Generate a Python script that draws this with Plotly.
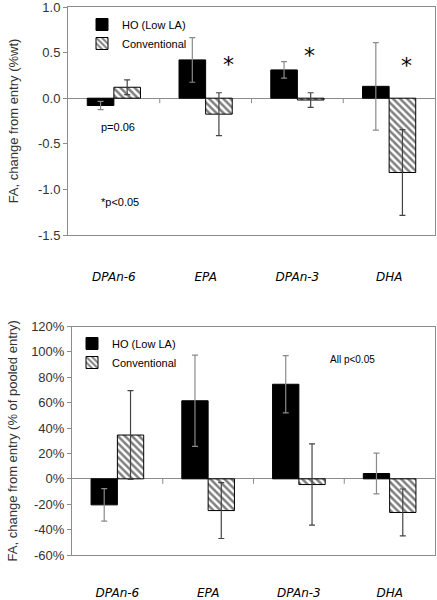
import plotly.graph_objects as go

W, H = 437, 600

categories = ["DPAn-6", "EPA", "DPAn-3", "DHA"]

# Top panel: change from entry (%wt)
top_ho = [-0.08, 0.42, 0.31, 0.13]
top_ho_err = [0.045, 0.245, 0.09, 0.48]
top_conv = [0.12, -0.175, -0.02, -0.815]
top_conv_err = [0.08, 0.235, 0.08, 0.47]

# Bottom panel: change from entry (% of pooled entry)
bot_ho = [-20.5, 61.5, 74.5, 4.2]
bot_ho_err = [12.8, 36, 22.6, 16]
bot_conv = [34.5, -25, -4.5, -26.5]
bot_conv_err = [35, 22, 32, 18.5]

top_y_ticks = [-1.5, -1.0, -0.5, 0.0, 0.5, 1.0]
top_y_labels = ["-1.5", "-1.0", "-0.5", "0.0", "0.5", "1.0"]
bot_y_ticks = [-60, -40, -20, 0, 20, 40, 60, 80, 100, 120]
bot_y_labels = ["-60%", "-40%", "-20%", "0%", "20%", "40%", "60%", "80%", "100%", "120%"]

def px(x):
    return x / W

def py(y):
    return 1 - y / H

GRAY = "#8c8c8c"
TXT = "#333333"
FONT = "Liberation Sans"

fig = go.Figure()

def add_pair(ho, ho_err, conv, conv_err, xa, ya, leg):
    fig.add_trace(go.Bar(
        x=categories, y=ho, name="HO (Low LA)", xaxis=xa, yaxis=ya, legend=leg,
        marker=dict(color="black", line=dict(color="black", width=1)),
        error_y=dict(type="data", array=ho_err, color="#8a8a8a", thickness=1.2, width=3),
    ))
    fig.add_trace(go.Bar(
        x=categories, y=conv, name="Conventional", xaxis=xa, yaxis=ya, legend=leg,
        marker=dict(color="white", line=dict(color="black", width=1),
                    pattern=dict(shape="\\", fgcolor="black", bgcolor="white", size=5, solidity=0.5)),
        error_y=dict(type="data", array=conv_err, color="#444444", thickness=1.2, width=3),
    ))

add_pair(top_ho, top_ho_err, top_conv, top_conv_err, "x", "y", "legend")
add_pair(bot_ho, bot_ho_err, bot_conv, bot_conv_err, "x2", "y2", "legend2")

xcommon = dict(type="category", showline=True, mirror=True, linecolor=GRAY, linewidth=1,
               ticks="", showgrid=False, automargin=False, ticklabeloverflow="allow",
               tickfont=dict(family="DejaVu Sans", size=12, color="black", style="italic"))
ycommon = dict(showline=True, mirror=True, linecolor=GRAY, linewidth=1, ticks="outside",
               ticklen=4, tickcolor=GRAY, showgrid=False, zeroline=True, zerolinecolor=GRAY,
               zerolinewidth=1, automargin=False, ticklabeloverflow="allow",
               tickfont=dict(family=FONT, size=13, color=TXT))

fig.update_layout(
    width=W, height=H, margin=dict(l=0, r=0, t=0, b=0, autoexpand=False),
    paper_bgcolor="white", plot_bgcolor="white",
    barmode="group", bargap=0.42, bargroupgap=0,
    font=dict(family=FONT, color=TXT),
    xaxis=dict(domain=[px(68), px(435)], anchor="y", ticklabelstandoff=31, **xcommon),
    yaxis=dict(domain=[py(235), py(7)], anchor="x", range=[-1.5, 1.0],
               tickvals=top_y_ticks, ticktext=top_y_labels,
               title=dict(text="FA, change from entry (%wt)", standoff=16,
                          font=dict(family=FONT, size=13, color=TXT)), **ycommon),
    xaxis2=dict(domain=[px(72), px(435)], anchor="y2", ticklabelstandoff=27, **xcommon),
    yaxis2=dict(domain=[py(555), py(326.5)], anchor="x2", range=[-60, 120],
                tickvals=bot_y_ticks, ticktext=bot_y_labels,
                title=dict(text="FA, change from entry (% of pooled entry)", standoff=10,
                           font=dict(family=FONT, size=13, color=TXT)), **ycommon),
    legend=dict(x=px(82), y=py(10), xanchor="left", yanchor="top", bgcolor="rgba(0,0,0,0)",
                font=dict(family=FONT, size=11, color="black"), tracegroupgap=0, itemwidth=30),
    legend2=dict(x=px(72), y=py(329), xanchor="left", yanchor="top", bgcolor="rgba(0,0,0,0)",
                 font=dict(family=FONT, size=11, color="black"), tracegroupgap=0, itemwidth=30),
    showlegend=True,
)

# small tick marks on the zero line between categories
shapes = []
for xa, ya in (("x", "y"), ("x2", "y2")):
    for b in (0.5, 1.5, 2.5):
        shapes.append(dict(type="line", xref=xa, yref=ya, x0=b, x1=b, ysizemode="pixel",
                           yanchor=0, y0=0, y1=-5, line=dict(color=GRAY, width=1)))
fig.update_layout(shapes=shapes)

ann = []
# notes
ann.append(dict(text="p=0.06", xref="paper", yref="paper", x=px(99), y=py(127),
                xanchor="left", yanchor="middle", showarrow=False,
                font=dict(family=FONT, size=11, color="black")))
ann.append(dict(text="*p<0.05", xref="paper", yref="paper", x=px(99), y=py(202),
                xanchor="left", yanchor="middle", showarrow=False,
                font=dict(family=FONT, size=11, color="black")))
ann.append(dict(text="All p<0.05", xref="paper", yref="paper", x=px(328), y=py(359),
                xanchor="left", yanchor="middle", showarrow=False,
                font=dict(family=FONT, size=10, color="black")))
# asterisks
for x, y in ((228, 64), (309, 55), (406, 65)):
    ann.append(dict(text="*", xref="paper", yref="paper", x=px(x), y=py(y),
                    xanchor="center", yanchor="middle",
                    showarrow=False, font=dict(family="DejaVu Sans", size=22, color="black")))
fig.update_layout(annotations=ann)

fig.write_html("out.html", config={"displayModeBar": False},
               post_script="document.body.style.margin='0';document.body.style.padding='0';")
